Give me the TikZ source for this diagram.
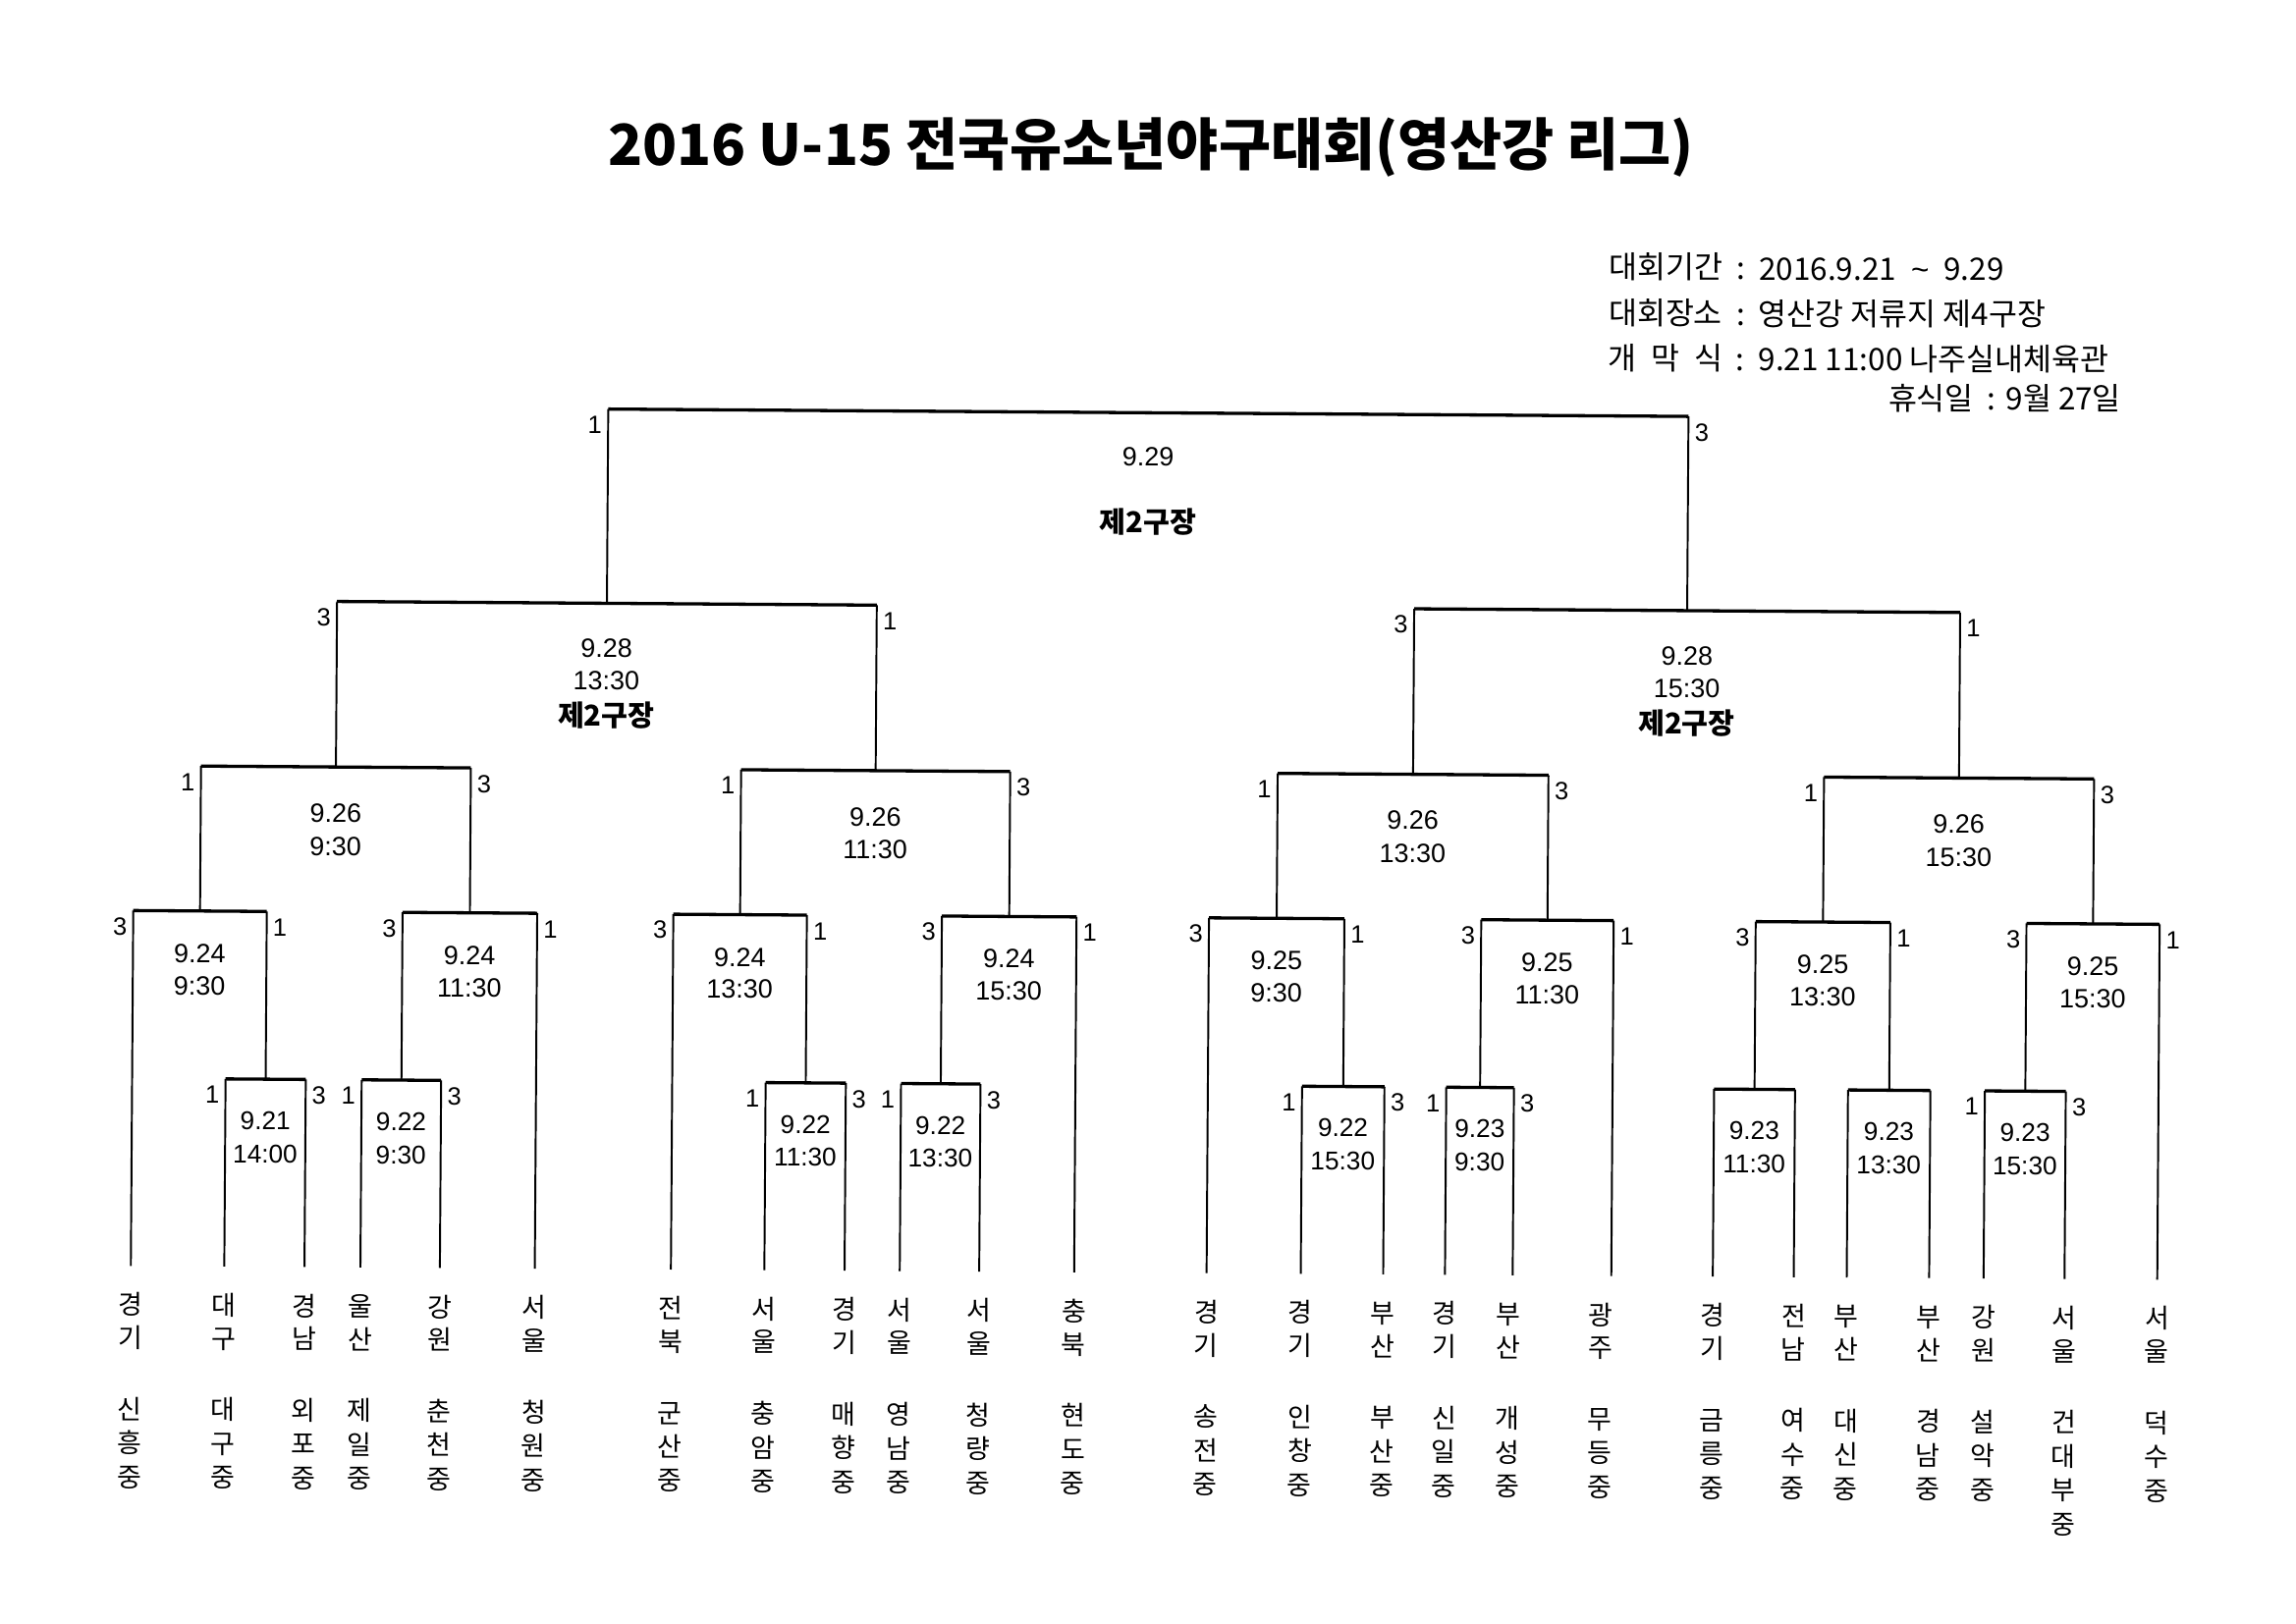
\documentclass[tikz,border=0pt]{standalone}
\usepackage{fontspec}
\setmainfont{Liberation Sans}
\newfontfamily\kr{Noto Sans CJK KR}
\tikzset{
  hl/.style={line width=2.2pt},
  vl/.style={line width=1.3pt},
  num/.style={font=\fontsize{18}{18}\selectfont, inner sep=0pt, text height=13pt, text depth=0pt},
  numsm/.style={font=\fontsize{17.5}{17.5}\selectfont, inner sep=0pt, text height=12.6pt, text depth=0pt},
  sc/.style={font=\fontsize{17}{17}\selectfont, inner sep=0pt, text height=12.2pt, text depth=0pt},
  ch/.style={font=\kr\fontsize{18}{18}\selectfont, inner sep=0pt, text height=14.4pt, text depth=1.3pt},
  venue/.style={font=\kr\bfseries\fontsize{19.5}{19.5}\selectfont, inner sep=0pt, text height=15.6pt, text depth=1.4pt},
  info/.style={font=\kr\fontsize{21}{21}\selectfont, inner sep=0pt, text height=16.8pt, text depth=1.5pt},
  ttl/.style={font=\kr\bfseries\fontsize{38.5}{38.5}\selectfont, inner sep=0pt},
}
% bracket top: name, x left, x right, y, left label, right label
\newcommand\bkt[6]{%
  \coordinate (#1-l) at (#2,#4);
  \coordinate (#1-r) at (#3,#4);
  \coordinate (#1-c) at ({(#2+#3)/2},#4);
  \draw[hl] (#1-l) -- (#1-r);
  \node[sc] (#1-sl) at ({#2-9},{#4+10.5}) {#5};
  \node[sc] (#1-sr) at ({#3+9},{#4+10.5}) {#6};
}
% team column: name, x, region letters, school letters
\newcommand\team[4]{%
  \foreach \ltr [count=\idx] in {#3} \node[ch] (#1r\idx) at (#2,{891.5+(\idx-1)*22.5}) {\ltr};
  \foreach \ltr [count=\idx] in {#4} \node[ch] (#1s\idx) at (#2,{962.5+(\idx-1)*23}) {\ltr};
}
\begin{document}
\begin{tikzpicture}[x=1pt,y=-1pt]
\fill[white] (0,0) rectangle (1560,1103);
\useasboundingbox (0,0) rectangle (1560,1103);
\begin{scope}[rotate around={-0.39:(780,550)}]
% title and information
\node[ttl] (title) at (779,100) {2016 U-15 전국유소년야구대회(영산강 리그)};
\node[info,anchor=west] (i1a) at (1090.5,179.7) {대회기간};
\node[info] (i1c) at (1180.5,179.7) {:};
\node[info,anchor=west] (i1b) at (1192.5,179.7) {2016.9.21\hspace{10pt}{\rmfamily\textasciitilde}\hspace{10pt}9.29};
\node[info,anchor=west] (i2a) at (1090.5,210.7) {대회장소};
\node[info] (i2c) at (1180.5,210.7) {:};
\node[info,anchor=west] (i2b) at (1192.5,210.7) {영산강 저류지 제4구장};
\node[info,anchor=west] (i3a) at (1090.5,241.7) {\makebox[78pt][s]{개\hfill 막\hfill 식}};
\node[info] (i3c) at (1180.5,241.7) {:};
\node[info,anchor=west] (i3b) at (1192.5,241.7) {9.21 11:00 나주실내체육관};
\node[info,anchor=east] (i4) at (1439.5,266.7) {휴식일\hspace{9pt}:\hspace{7pt}9월 27일};

% leaf ends
\foreach \n/\x in {1/91,2/154.5,3/209,4/247,5/301,6/365.5,7/458,8/521.5,9/576,10/613.5,11/667.5,12/732,
  13/822,14/886,15/942,16/984,17/1030,18/1097,19/1166,20/1221,21/1257,22/1313,23/1350,24/1405,25/1468}
  \coordinate (t\n) at (\x,865);

% first round (y 737.5)
\bkt{A}{154.5}{209}{737.5}{1}{3}
\bkt{B}{247}{301}{737.5}{1}{3}
\bkt{C}{521.5}{576}{737.5}{1}{3}
\bkt{D}{613.5}{667.5}{737.5}{1}{3}
\bkt{E}{886}{942}{737.5}{1}{3}
\bkt{F}{984}{1030}{737.5}{1}{3}
\bkt{G}{1166}{1221}{737.5}{}{}
\bkt{H}{1257}{1313}{737.5}{}{}
\bkt{I}{1350}{1405}{737.5}{1}{3}
% second round (y 623.5)
\bkt{b1}{91}{181.75}{623.5}{3}{1}
\bkt{b2}{274}{365.5}{623.5}{3}{1}
\bkt{b3}{458}{548.75}{623.5}{3}{1}
\bkt{b4}{640.5}{732}{623.5}{3}{1}
\bkt{b5}{822}{914}{623.5}{3}{1}
\bkt{b6}{1007}{1097}{623.5}{3}{1}
\bkt{b7}{1193.5}{1285}{623.5}{3}{1}
\bkt{b8}{1377.5}{1468}{623.5}{3}{1}
% quarter finals (y 525)
\bkt{q1}{136.375}{319.75}{525}{1}{3}
\bkt{q2}{503.375}{686.25}{525}{1}{3}
\bkt{q3}{868}{1052}{525}{1}{3}
\bkt{q4}{1239.25}{1422.75}{525}{1}{3}
% semi finals (y 412.5)
\bkt{s1}{228.0625}{594.8125}{412.5}{3}{1}
\bkt{s2}{960}{1331}{412.5}{3}{1}
% final (y 280.5)
\bkt{fin}{411.4375}{1145.5}{280.5}{1}{3}

% verticals
\draw[vl] (fin-l) -- (s1-c); \draw[vl] (fin-r) -- (s2-c);
\draw[vl] (s1-l) -- (q1-c); \draw[vl] (s1-r) -- (q2-c);
\draw[vl] (s2-l) -- (q3-c); \draw[vl] (s2-r) -- (q4-c);
\draw[vl] (q1-l) -- (b1-c); \draw[vl] (q1-r) -- (b2-c);
\draw[vl] (q2-l) -- (b3-c); \draw[vl] (q2-r) -- (b4-c);
\draw[vl] (q3-l) -- (b5-c); \draw[vl] (q3-r) -- (b6-c);
\draw[vl] (q4-l) -- (b7-c); \draw[vl] (q4-r) -- (b8-c);
\draw[vl] (b1-l) -- (t1);  \draw[vl] (b1-r) -- (A-c);
\draw[vl] (b2-l) -- (B-c); \draw[vl] (b2-r) -- (t6);
\draw[vl] (b3-l) -- (t7);  \draw[vl] (b3-r) -- (C-c);
\draw[vl] (b4-l) -- (D-c); \draw[vl] (b4-r) -- (t12);
\draw[vl] (b5-l) -- (t13); \draw[vl] (b5-r) -- (E-c);
\draw[vl] (b6-l) -- (F-c); \draw[vl] (b6-r) -- (t18);
\draw[vl] (b7-l) -- (G-c); \draw[vl] (b7-r) -- (H-c);
\draw[vl] (b8-l) -- (I-c); \draw[vl] (b8-r) -- (t25);
\draw[vl] (A-l) -- (t2);  \draw[vl] (A-r) -- (t3);
\draw[vl] (B-l) -- (t4);  \draw[vl] (B-r) -- (t5);
\draw[vl] (C-l) -- (t8);  \draw[vl] (C-r) -- (t9);
\draw[vl] (D-l) -- (t10); \draw[vl] (D-r) -- (t11);
\draw[vl] (E-l) -- (t14); \draw[vl] (E-r) -- (t15);
\draw[vl] (F-l) -- (t16); \draw[vl] (F-r) -- (t17);
\draw[vl] (G-l) -- (t19); \draw[vl] (G-r) -- (t20);
\draw[vl] (H-l) -- (t21); \draw[vl] (H-r) -- (t22);
\draw[vl] (I-l) -- (t23); \draw[vl] (I-r) -- (t24);

% match texts
\node[num] (fin-d) at (778.5,310) {9.29};
\node[venue] (fin-v) at (778.5,355) {제2구장};
\node[num] (s1-d) at (411.4,443) {9.28};
\node[num] (s1-t) at (411.4,465) {13:30};
\node[venue] (s1-v) at (411.4,489) {제2구장};
\node[num] (s2-d) at (1145.5,443) {9.28};
\node[num] (s2-t) at (1145.5,465) {15:30};
\node[venue] (s2-v) at (1145.5,489) {제2구장};
\foreach \m/\t in {q1/9:30,q2/11:30,q3/13:30,q4/15:30}{
  \node[num] (\m-d) at ([yshift=-31pt]\m-c) {9.26};
  \node[num] (\m-t) at ([yshift=-53.5pt]\m-c) {\t};
}
\foreach \m/\d/\t in {b1/9.24/9:30,b2/9.24/11:30,b3/9.24/13:30,b4/9.24/15:30,
  b5/9.25/9:30,b6/9.25/11:30,b7/9.25/13:30,b8/9.25/15:30}{
  \node[num] (\m-d) at ([yshift=-28.5pt]\m-c) {\d};
  \node[num] (\m-t) at ([yshift=-50.5pt]\m-c) {\t};
}
\foreach \m/\d/\t in {A/9.21/14:00,B/9.22/9:30,C/9.22/11:30,D/9.22/13:30,E/9.22/15:30,
  F/9.23/9:30,G/9.23/11:30,H/9.23/13:30,I/9.23/15:30}{
  \node[numsm] (\m-d) at ([yshift=-28pt]\m-c) {\d};
  \node[numsm] (\m-t) at ([yshift=-50.5pt]\m-c) {\t};
}

% teams
\team{ta}{91}{경,기}{신,흥,중}
\team{tb}{154.5}{대,구}{대,구,중}
\team{tc}{209}{경,남}{외,포,중}
\team{td}{247}{울,산}{제,일,중}
\team{te}{301}{강,원}{춘,천,중}
\team{tf}{365.5}{서,울}{청,원,중}
\team{tg}{458}{전,북}{군,산,중}
\team{th}{521.5}{서,울}{충,암,중}
\team{ti}{576}{경,기}{매,향,중}
\team{tj}{613.5}{서,울}{영,남,중}
\team{tk}{667.5}{서,울}{청,량,중}
\team{tl}{732}{충,북}{현,도,중}
\team{tm}{822}{경,기}{송,전,중}
\team{tn}{886}{경,기}{인,창,중}
\team{to}{942}{부,산}{부,산,중}
\team{tp}{984}{경,기}{신,일,중}
\team{tq}{1027}{부,산}{개,성,중}
\team{tr}{1090}{광,주}{무,등,중}
\team{ts}{1166}{경,기}{금,릉,중}
\team{tt}{1221}{전,남}{여,수,중}
\team{tu}{1257}{부,산}{대,신,중}
\team{tv}{1313}{부,산}{경,남,중}
\team{tw}{1350}{강,원}{설,악,중}
\team{tx}{1405}{서,울}{건,대,부,중}
\team{ty}{1468}{서,울}{덕,수,중}
\end{scope}
\end{tikzpicture}
\end{document}
